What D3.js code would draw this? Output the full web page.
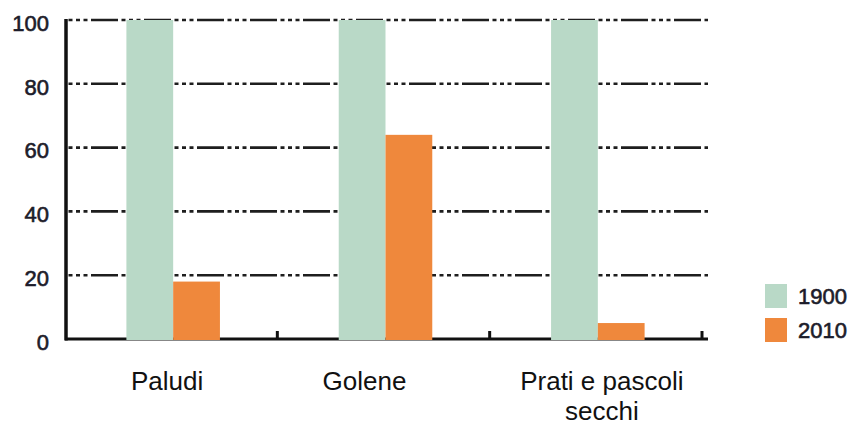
<!DOCTYPE html>
<html>
<head>
<meta charset="utf-8">
<script src="https://cdn.jsdelivr.net/npm/d3@7"></script>
<style>
  body { margin: 0; background: #fff; }
  svg { display: block; }
</style>
</head>
<body>
<div id="chart"></div>
<script>
// data
const categories = ["Paludi", "Golene", "Prati e pascoli secchi"];
const years = ["1900", "2010"];
const values1900 = [100, 100, 100];
const values2010 = [18, 64, 5];
const yTicks = [0, 20, 40, 60, 80, 100];

const colors = { "1900": "#b9d9c7", "2010": "#ef883c" };

const width = 855, height = 427;

const svg = d3.select("#chart")
    .append("svg")
    .attr("width", width)
    .attr("height", height);

// scales
const x = d3.scaleBand()
    .domain(categories)
    .range([67, 704])
    .paddingInner(0)
    .paddingOuter(0);

const xSub = d3.scaleBand()
    .domain(years)
    .range([0, x.bandwidth()])
    .paddingInner(0)
    .paddingOuter(1.27);

const y = d3.scaleLinear()
    .domain([0, 100])
    .range([339, 20]);

// gridlines (dash-dot-dot-dot)
svg.append("g")
    .selectAll("line")
    .data(yTicks.filter(d => d > 0))
    .join("line")
    .attr("x1", 67)
    .attr("x2", 708)
    .attr("y1", d => y(d))
    .attr("y2", d => y(d))
    .attr("stroke", "#1e1e1e")
    .attr("stroke-width", 2.6)
    .attr("stroke-dasharray", "27,3.5,4,3.5,4,3.5,4,3.5")
    .attr("stroke-dashoffset", 29);

// x axis line + ticks at group boundaries
svg.append("line")
    .attr("x1", 65).attr("x2", 708)
    .attr("y1", y(0)).attr("y2", y(0))
    .attr("stroke", "#111")
    .attr("stroke-width", 2.8);

svg.append("g")
    .selectAll("line")
    .data(categories)
    .join("line")
    .attr("x1", d => x(d) + x.bandwidth() - 2)
    .attr("x2", d => x(d) + x.bandwidth() - 2)
    .attr("y1", y(0))
    .attr("y2", y(0) - 8)
    .attr("stroke", "#111")
    .attr("stroke-width", 3);

// bars
const rows = categories.map((c, i) => ({ cat: c, vals: [
    { year: "1900", value: values1900[i] },
    { year: "2010", value: values2010[i] }
]}));

svg.append("g")
    .selectAll("g")
    .data(rows)
    .join("g")
    .attr("transform", d => "translate(" + x(d.cat) + ",0)")
    .selectAll("rect")
    .data(d => d.vals)
    .join("rect")
    .attr("x", d => xSub(d.year))
    .attr("y", d => y(d.value))
    .attr("width", xSub.bandwidth())
    .attr("height", d => y(0) - y(d.value) + 1)
    .attr("fill", d => colors[d.year]);

// y axis line
svg.append("line")
    .attr("x1", 66).attr("x2", 66)
    .attr("y1", y(100) - 1).attr("y2", y(0) + 1.5)
    .attr("stroke", "#111")
    .attr("stroke-width", 3.5);

// y tick labels
svg.append("g")
    .selectAll("text")
    .data(yTicks)
    .join("text")
    .attr("x", 49)
    .attr("y", d => y(d) + 3)
    .attr("dy", "0.35em")
    .attr("text-anchor", "end")
    .style("font-family", "'Liberation Sans', Arial, sans-serif")
    .style("font-size", "22px")
    .style("fill", "#1c1c2a")
    .style("stroke", "#1c1c2a")
    .style("stroke-width", 0.6)
    .text(d => d);

// category labels (wrapped, nudged like the original)
const labelLines = {
    "Paludi": ["Paludi"],
    "Golene": ["Golene"],
    "Prati e pascoli secchi": ["Prati e pascoli", "secchi"]
};
const labelNudge = { "Paludi": -6, "Golene": -21, "Prati e pascoli secchi": 4 };

svg.append("g")
    .selectAll("text")
    .data(categories)
    .join("text")
    .attr("y", 390)
    .attr("text-anchor", "middle")
    .style("font-family", "'Liberation Sans', Arial, sans-serif")
    .style("font-size", "26px")
    .style("fill", "#111")
    .each(function(d) {
        const cx = x(d) + x.bandwidth() / 2 + labelNudge[d];
        d3.select(this).selectAll("tspan")
            .data(labelLines[d])
            .join("tspan")
            .attr("x", cx)
            .attr("dy", (t, i) => i === 0 ? 0 : 30)
            .text(t => t);
    });

// legend
const legend = svg.append("g")
    .selectAll("g")
    .data(years)
    .join("g")
    .attr("transform", (d, i) => "translate(765," + (284 + i * 34) + ")");

legend.append("rect")
    .attr("width", 22)
    .attr("height", 24)
    .attr("fill", d => colors[d]);

legend.append("text")
    .attr("x", 33)
    .attr("y", 12)
    .attr("dy", "0.35em")
    .style("font-family", "'Liberation Sans', Arial, sans-serif")
    .style("font-size", "22px")
    .style("fill", "#1c1c2a")
    .style("stroke", "#1c1c2a")
    .style("stroke-width", 0.6)
    .text(d => d);
</script>
</body>
</html>
